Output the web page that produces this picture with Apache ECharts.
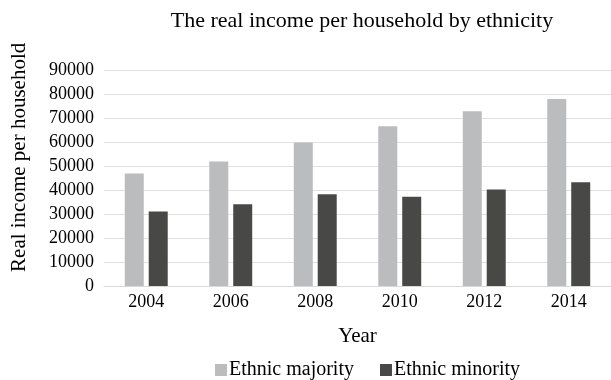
<!DOCTYPE html>
<html>
<head>
<meta charset="utf-8">
<script src="https://cdn.jsdelivr.net/npm/echarts@6/dist/echarts.min.js"></script>
<style>html,body{margin:0;padding:0;background:#fff;}#c{width:611px;height:380px;}</style>
</head>
<body>
<div id="c"></div>
<script>
var years = ['2004', '2006', '2008', '2010', '2012', '2014'];
var majority = [47000, 52000, 60000, 66800, 73000, 78200];
var minority = [31100, 34200, 38400, 37300, 40300, 43400];
var seriesNames = ['Ethnic majority', 'Ethnic minority'];

var font = '"Liberation Serif", "Times New Roman", serif';
var chart = echarts.init(document.getElementById('c'), null, {renderer: 'canvas'});
chart.setOption({
  animation: false,
  title: {
    text: 'The real income per household by ethnicity',
    left: 357, top: 5, textAlign: 'center',
    textStyle: {fontFamily: font, fontSize: 22, fontWeight: 'normal', color: '#000'}
  },
  legend: {
    data: seriesNames,
    top: 355, left: 210,
    itemWidth: 12, itemHeight: 12, itemGap: 26,
    icon: 'rect',
    textStyle: {fontFamily: font, fontSize: 20, color: '#000', padding: [0,0,0,-3]}
  },
  grid: {left: 104, right: -2, top: 70.7, bottom: 94, containLabel: false},
  xAxis: {
    type: 'category', data: years,
    name: 'Year', nameLocation: 'middle', nameGap: 40,
    nameTextStyle: {fontFamily: font, fontSize: 21, color: '#000'},
    axisLine: {lineStyle: {color: '#d9d9d9'}},
    axisTick: {show: false},
    axisLabel: {fontFamily: font, fontSize: 18, color: '#000', margin: 7}
  },
  yAxis: {
    type: 'value', min: 0, max: 90000, interval: 10000,
    name: 'Real income per household', nameLocation: 'middle', nameGap: 74,
    nameTextStyle: {fontFamily: font, fontSize: 21, color: '#000', padding: [0, 0, 0, 42]},
    axisLine: {show: false}, axisTick: {show: false},
    axisLabel: {fontFamily: font, fontSize: 18, color: '#000', margin: 10,
      formatter: function (v) { return String(v); }},
    splitLine: {lineStyle: {color: '#e0e0e0', width: 1}}
  },
  series: [
    {name: seriesNames[0], type: 'bar', data: majority, barWidth: 19, barGap: '26%',
     itemStyle: {color: '#bbbcbe'}},
    {name: seriesNames[1], type: 'bar', data: minority, barWidth: 19,
     itemStyle: {color: '#484846'}}
  ]
});
</script>
</body>
</html>
